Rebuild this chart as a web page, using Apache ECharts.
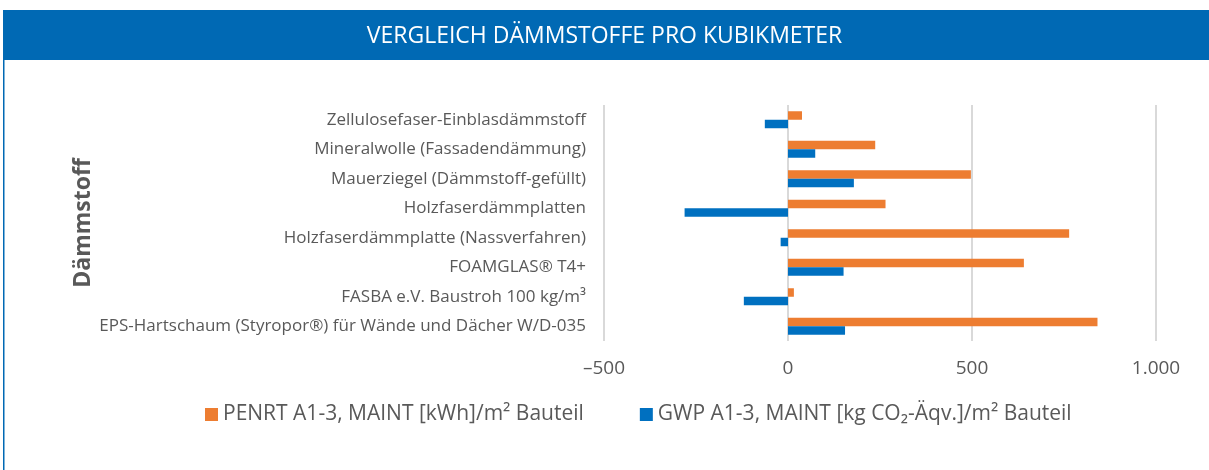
<!DOCTYPE html>
<html>
<head>
<meta charset="utf-8">
<script src="https://cdn.jsdelivr.net/npm/echarts@6/dist/echarts.min.js"></script>
<style>
html, body { margin: 0; padding: 0; background: #fff; }
#chart { width: 1209px; height: 470px; }
</style>
</head>
<body>
<div id="chart"></div>
<script>
// Kategorien von oben nach unten
var categories = [
	'Zellulosefaser-Einblasdämmstoff',
	'Mineralwolle (Fassadendämmung)',
	'Mauerziegel (Dämmstoff-gefüllt)',
	'Holzfaserdämmplatten',
	'Holzfaserdämmplatte (Nassverfahren)',
	'FOAMGLAS® T4+',
	'FASBA e.V. Baustroh 100 kg/m³',
	'EPS-Hartschaum (Styropor®) für Wände und Dächer W/D-035'
];
var penrt = [38, 237, 497, 265, 764, 641, 16, 841];
var gwp = [-63, 74, 179, -281, -20, 151, -120, 155];
var seriesNames = ['PENRT A1-3, MAINT [kWh]/m² Bauteil', 'GWP A1-3, MAINT [kg CO₂-Äqv.]/m² Bauteil'];

var myChart = echarts.init(document.getElementById('chart'));
var option = {
	animation: false,
	title: {
		text: 'VERGLEICH DÄMMSTOFFE PRO KUBIKMETER',
		left: 'center',
		top: 20,
		textStyle: { color: '#fff', fontFamily: 'Open Sans', fontWeight: 'normal', fontSize: 23 }
	},
	graphic: [
		{ type: 'rect', shape: { x: 3, y: 10, width: 1206, height: 50 }, style: { fill: '#0069B4' }, z: -1 },
		{ type: 'rect', shape: { x: 3, y: 60, width: 1.5, height: 410 }, style: { fill: '#0069B4' } }
	],
	legend: {
		data: seriesNames,
		left: 200,
		top: 399,
		itemWidth: 13,
		itemHeight: 13,
		itemGap: 56,
		icon: 'rect',
		textStyle: { color: '#595959', fontFamily: 'Open Sans', fontSize: 21 }
	},
	grid: { left: 604, right: 53, top: 105, bottom: 129, containLabel: false },
	xAxis: {
		type: 'value',
		min: -500,
		max: 1000,
		interval: 500,
		axisLine: { show: false },
		axisTick: { show: false },
		splitLine: { lineStyle: { color: '#d9d9d9', width: 2 } },
		axisLabel: {
			color: '#595959',
			fontFamily: 'Open Sans',
			fontSize: 19,
			margin: 18,
			formatter: function (v) {
				if (v < 0) return '–' + Math.abs(v);
				if (v >= 1000) return (v / 1000) + '.000';
				return '' + v;
			}
		}
	},
	yAxis: {
		type: 'category',
		data: categories,
		inverse: true,
		name: 'Dämmstoff',
		nameLocation: 'middle',
		nameRotate: 90,
		nameGap: 500,
		nameTextStyle: { color: '#595959', fontFamily: 'Open Sans', fontWeight: 'bold', fontSize: 23 },
		axisLine: { show: false },
		axisTick: { show: false },
		axisLabel: { color: '#595959', fontFamily: 'Open Sans', fontSize: 17, margin: 18 }
	},
	series: [
		{
			name: seriesNames[0],
			type: 'bar',
			data: penrt,
			barWidth: 8.5,
			barGap: '0%',
			itemStyle: { color: '#ED7D31' }
		},
		{
			name: seriesNames[1],
			type: 'bar',
			data: gwp,
			barWidth: 8.5,
			barGap: '0%',
			itemStyle: { color: '#0070C0' }
		}
	]
};
myChart.setOption(option);
</script>
</body>
</html>
